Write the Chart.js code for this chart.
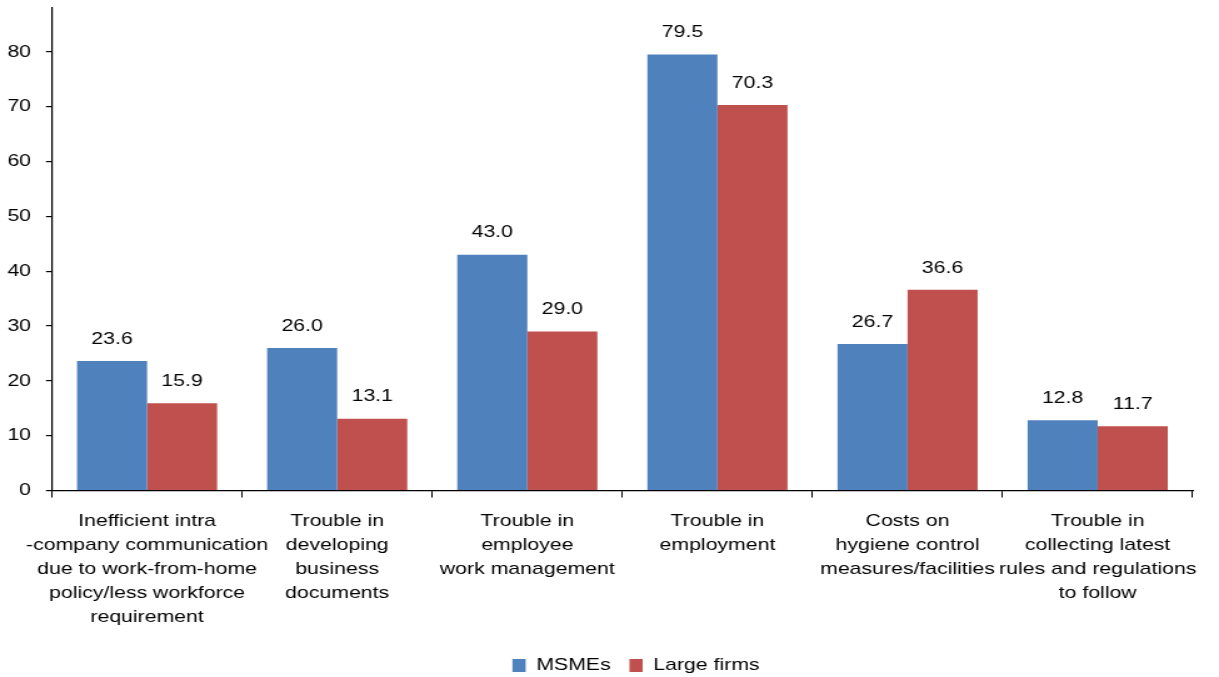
<!DOCTYPE html>
<html><head><meta charset="utf-8">
<script src="https://cdn.jsdelivr.net/npm/chart.js@4"></script>
<style>html,body{margin:0;padding:0;background:#fff;overflow:hidden}</style>
</head><body>
<canvas id="c" width="975" height="677" style="width:1219px;height:677px;display:block"></canvas>
<script>
const categories = [
  ["Inefficient intra","-company communication","due to work-from-home","policy/less workforce","requirement"],
  ["Trouble in","developing","business","documents"],
  ["Trouble in","employee","work management"],
  ["Trouble in","employment"],
  ["Costs on","hygiene control","measures/facilities"],
  ["Trouble in","collecting latest","rules and regulations","to follow"]
];
const msmes = [23.6, 26.0, 43.0, 79.5, 26.7, 12.8];
const largeFirms = [15.9, 13.1, 29.0, 70.3, 36.6, 11.7];
const yTicks = [0,10,20,30,40,50,60,70,80];
const FONT = "'Liberation Sans', Arial, Helvetica, sans-serif";

const labelPlugin = {
  id:'valueLabels',
  afterLayout(chart){
    const lg = chart.legend;
    if (lg) { lg.left += 10.9; lg.right += 10.9; }
  },
  afterDatasetsDraw(chart){
    const ctx = chart.ctx;
    ctx.save();
    ctx.font = "17px " + FONT;
    ctx.fillStyle = '#000';
    ctx.textAlign = 'center';
    ctx.textBaseline = 'middle';
    chart.data.datasets.forEach((ds,i)=>{
      chart.getDatasetMeta(i).data.forEach((bar,j)=>{
        ctx.fillText(ds.data[j].toFixed(1), bar.x, bar.y - 22);
      });
    });
    ctx.restore();
  }
};

new Chart(document.getElementById('c'), {
  type:'bar',
  data:{
    labels: categories,
    datasets:[
      {label:'MSMEs', data:msmes, backgroundColor:'#4F81BD'},
      {label:'Large firms', data:largeFirms, backgroundColor:'#C0504D'}
    ]
  },
  options:{
    responsive:false, devicePixelRatio:1, animation:false,
    layout:{padding:{top:0,right:21,left:0,bottom:-7}},
    datasets:{bar:{categoryPercentage:0.737, barPercentage:1}},
    plugins:{
      legend:{position:'bottom', fullSize:false, labels:{font:{family:FONT,size:17,lineHeight:1}, color:'#000', boxWidth:10.6, boxHeight:13, padding:15}},
      tooltip:{enabled:false}
    },
    scales:{
      x:{
        afterFit(scale){ scale.height = 151.5; scale.paddingLeft = 0; scale.paddingRight = 0; },
        grid:{drawOnChartArea:false, drawTicks:true, tickLength:7, offset:true, color:'#000', lineWidth:1},
        border:{display:true,color:'#000',width:1.2},
        ticks:{font:{family:FONT,size:17,lineHeight:1.41}, color:'#000', maxRotation:0, autoSkip:false, padding:12}
      },
      y:{
        min:0, max:88,
        afterBuildTicks(scale){ scale.ticks = yTicks.map(v=>({value:v})); },
        afterFit(scale){ scale.width = 41.6; scale.paddingTop = 8; scale.paddingBottom = 0; },
        grid:{drawOnChartArea:false, drawTicks:true, tickLength:4.8, color:'#000', lineWidth:1.2},
        border:{display:true,color:'#000',width:1.2},
        ticks:{font:{family:FONT,size:17}, color:'#000', padding:12}
      }
    }
  },
  plugins:[labelPlugin]
});
</script></body></html>
